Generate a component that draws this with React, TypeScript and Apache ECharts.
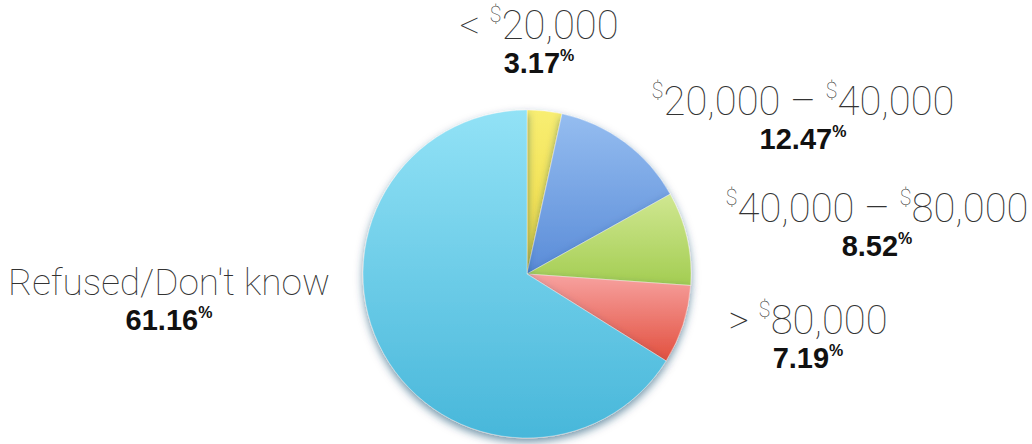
import React, { useEffect, useRef } from "react";
import * as echarts from "echarts";

const categories = ["< $20,000", "$20,000 – $40,000", "$40,000 – $80,000", "> $80,000", "Refused/Don't know"];
const values = [3.17, 12.47, 8.52, 7.19, 61.16];
const labelNames = [
  "{t|< }{s|$}{t|20,000}",
  "{s|$}{t|20,000 – }{s|$}{t|40,000}",
  "{s|$}{t|40,000 – }{s|$}{t|80,000}",
  "{t|> }{s|$}{t|80,000}",
  "{tl|Refused/Don't know}",
];

const sliceColors = [
  ["#f8ee72", "#eed940"],
  ["#95bdf0", "#5a8cd8"],
  ["#d0e791", "#a3cd52"],
  ["#f7a2a0", "#e2503f"],
  ["#92e2f6", "#48b7da"],
];
const labelX = [539, 803, 877, 808, 169];
const labelY = [41, 117, 224, 336, 298];

export default function App() {
  const ref = useRef<HTMLDivElement>(null);
  useEffect(() => {
    if (!ref.current) return;
    const chart = echarts.init(ref.current, null, { renderer: "svg" });
    const data = categories.map((name, i) => ({
      name,
      value: values[i],
      itemStyle: {
        color: new echarts.graphic.LinearGradient(0, 0, 0, 1, [
          { offset: 0, color: sliceColors[i][0] },
          { offset: 1, color: sliceColors[i][1] },
        ]),
      },
    }));
    const thin = {
      fontFamily: "Roboto, Inter, Lato, sans-serif",
      fontWeight: 100,
      color: "#333333",
    };
    const bold = {
      fontFamily: "Liberation Sans, Arial, sans-serif",
      fontWeight: "bold",
      color: "#111111",
    };
    chart.setOption({
      animation: false,
      backgroundColor: "#ffffff",
      series: [
        {
          type: "pie",
          center: [527, 274],
          radius: 164,
          startAngle: 90,
          clockwise: true,
          avoidLabelOverlap: false,
          silent: true,
          data,
          itemStyle: {
            borderWidth: 0.8,
            borderColor: "rgba(255,255,255,0.45)",
            shadowBlur: 8,
            shadowOffsetY: 4,
            shadowColor: "rgba(0,60,100,0.55)",
          },
          labelLine: { show: false },
          label: {
            show: true,
            position: "outside",
            formatter: (p: any) =>
              labelNames[p.dataIndex] + "\n{b|" + values[p.dataIndex].toFixed(2) + "}{p|%}",
            rich: {
              t: { ...thin, fontSize: 40, lineHeight: 44 },
              tl: { ...thin, fontSize: 37, lineHeight: 44 },
              s: { ...thin, fontSize: 22, lineHeight: 28, verticalAlign: "top" },
              b: { ...bold, fontSize: 29, lineHeight: 32 },
              p: { ...bold, fontSize: 16, lineHeight: 22, verticalAlign: "top" },
            },
          },
          labelLayout: (params: any) => ({
            x: labelX[params.dataIndex],
            y: labelY[params.dataIndex],
            align: "center",
            verticalAlign: "middle",
          }),
        },
      ],
    });
    return () => chart.dispose();
  }, []);
  return (
    <div
      ref={ref}
      style={{ position: "fixed", left: 0, top: 0, width: 1032, height: 444 }}
    />
  );
}
